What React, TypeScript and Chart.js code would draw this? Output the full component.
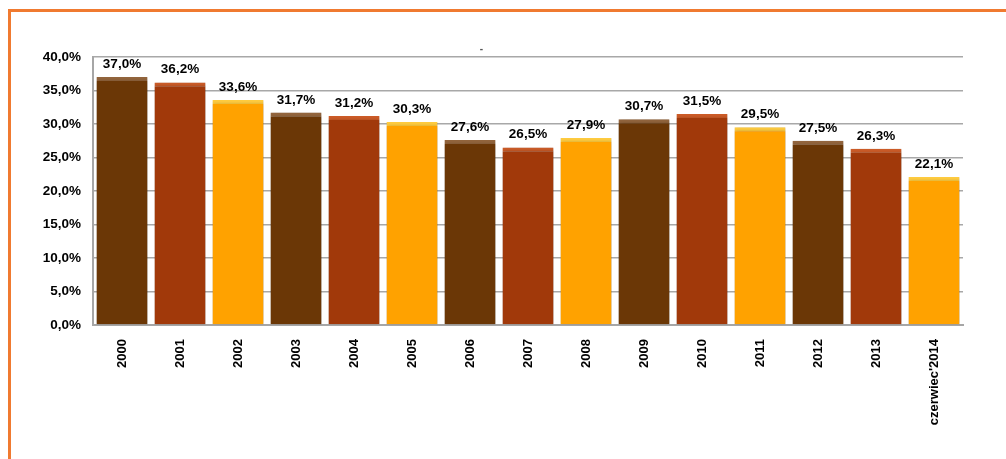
import React, { useEffect, useRef } from 'react';
import { Chart, registerables } from 'chart.js';

Chart.register(...registerables);

const years = ['2000', '2001', '2002', '2003', '2004', '2005', '2006', '2007', '2008', '2009', '2010', '2011', '2012', '2013', "czerwiec'2014"];
const shares = [37.0, 36.2, 33.6, 31.7, 31.2, 30.3, 27.6, 26.5, 27.9, 30.7, 31.5, 29.5, 27.5, 26.3, 22.1];

const fills = ['#6b3706', '#a1390a', '#ffa200'];
const caps = ['#93653d', '#cc5c28', '#ffcc40'];

const pl = (v: number) => v.toFixed(1).replace('.', ',') + '%';
const family = "'Liberation Sans', Arial, sans-serif";
const tickFont = { family, size: 13.5, weight: 'bold' as const };

// soft shadow around the bars, like the original 3D look
const barShadow = {
  id: 'barShadow',
  beforeDatasetsDraw(chart: Chart) {
    const ctx = chart.ctx;
    ctx.save();
    ctx.shadowColor = 'rgba(0,0,0,0.35)';
    ctx.shadowBlur = 4;
    ctx.shadowOffsetX = 1;
    ctx.shadowOffsetY = 1;
  },
  afterDatasetsDraw(chart: Chart) {
    chart.ctx.restore();
  },
};

const valueLabels = {
  id: 'valueLabels',
  afterDatasetsDraw(chart: Chart) {
    const ctx = chart.ctx;
    const meta = chart.getDatasetMeta(0);
    ctx.save();
    ctx.font = `bold 13.5px ${family}`;
    ctx.fillStyle = '#000';
    ctx.textAlign = 'center';
    ctx.textBaseline = 'bottom';
    meta.data.forEach((bar: any, i: number) => {
      ctx.fillText(pl(shares[i]), bar.x, bar.y - 6);
    });
    ctx.restore();
  },
};

const App: React.FC = () => {
  const chartRef = useRef<HTMLCanvasElement>(null);
  const chartInstance = useRef<Chart | null>(null);

  useEffect(() => {
    if (!chartRef.current) return;
    chartInstance.current = new Chart(chartRef.current, {
      type: 'bar',
      data: {
        labels: years,
        datasets: [
          {
            data: shares,
            backgroundColor: shares.map((_, i) => fills[i % 3]),
            borderColor: shares.map((_, i) => caps[i % 3]),
            borderWidth: { top: 4, left: 0, right: 0, bottom: 0 },
            borderSkipped: 'bottom',
            barPercentage: 0.88,
            categoryPercentage: 1,
          },
        ],
      },
      options: {
        animation: false,
        responsive: false,
        maintainAspectRatio: false,
        layout: { padding: { left: 0, right: 43, top: 0, bottom: 0 } },
        plugins: {
          legend: { display: false },
          tooltip: { enabled: false },
          title: {
            display: true,
            text: '-',
            color: '#555',
            font: { family, size: 10 },
            padding: { top: 43, bottom: 2 },
          },
        },
        scales: {
          x: {
            grid: { display: false, drawTicks: false },
            border: { display: true, color: '#a6a6a6', width: 2 },
            ticks: { color: '#000', font: { family, size: 13, weight: 'bold' }, minRotation: 90, maxRotation: 90, padding: 14, autoSkip: false },
            afterFit: (s: any) => { s.height = 134; },
          },
          y: {
            min: 0,
            max: 40,
            grid: { color: '#a8a8a8', lineWidth: 1.5, drawTicks: false },
            border: { display: true, color: '#a6a6a6', width: 2 },
            ticks: { stepSize: 5, color: '#000', font: tickFont, padding: 12, callback: (v: any) => pl(Number(v)) },
            afterFit: (s: any) => { s.width = 93; },
          },
        },
      },
      plugins: [barShadow, valueLabels],
    });
    return () => {
      chartInstance.current?.destroy();
      chartInstance.current = null;
    };
  }, []);

  return (
    <div style={{ position: 'absolute', left: 0, top: 0, width: 1006, height: 459, background: '#fff' }}>
      <canvas ref={chartRef} width={1006} height={459} style={{ position: 'absolute', left: 0, top: 0 }} />
      <div
        style={{
          position: 'absolute',
          left: 8,
          top: 9,
          width: 998,
          height: 450,
          borderTop: '3px solid #f07a30',
          borderLeft: '3px solid #f07a30',
          boxSizing: 'border-box',
          pointerEvents: 'none',
        }}
      />
    </div>
  );
};

export default App;
